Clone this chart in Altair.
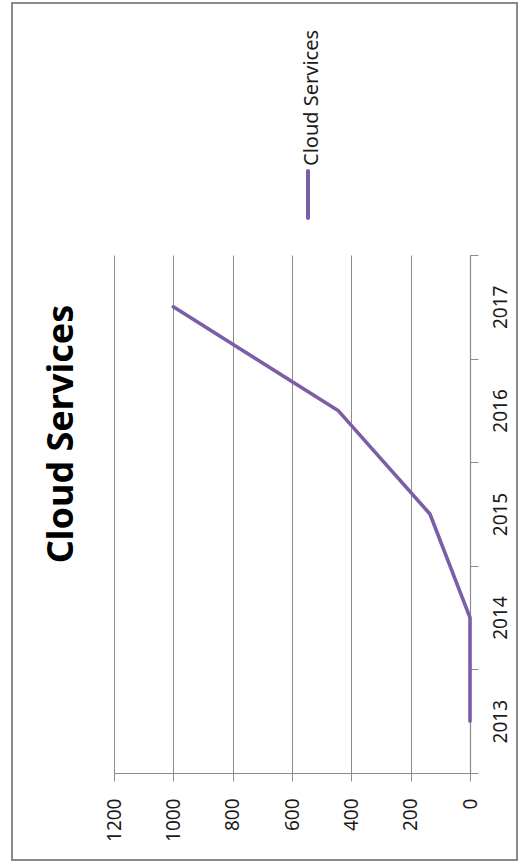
import altair as alt
import pandas as pd

# Series data
years = ["2013", "2014", "2015", "2016", "2017"]
cloud_services = [0, 0, 135, 445, 1000]
series_name = "Cloud Services"
chart_title = "Cloud Services"
value_ticks = [0, 200, 400, 600, 800, 1000, 1200]

FONT = "Noto Sans"
PURPLE = "#7B5EA7"
GRID = "#8C8C8C"
TEXT = "#1a1a1a"

df = pd.DataFrame({"year": years, "value": cloud_services, "idx": range(len(years))})

# Plot is drawn turned a quarter-turn: values run right-to-left, years bottom-to-top
x_enc = alt.X(
    "value:Q",
    scale=alt.Scale(domain=[0, 1200], reverse=True, nice=False, zero=True),
    axis=alt.Axis(
        orient="bottom",
        values=value_ticks,
        format="d",
        title=None,
        grid=True,
        gridColor=GRID,
        gridWidth=1,
        domainColor=GRID,
        domainWidth=1.2,
        tickColor=GRID,
        tickSize=8,
        labelAngle=270,
        labelAlign="right",
        labelBaseline="middle",
        labelPadding=17,
        labelFlush=False,
        labelOverlap=False,
        labelFont=FONT,
        labelFontSize=19,
        labelColor=TEXT,
    ),
)

y_enc = alt.Y(
    "year:O",
    sort=list(reversed(years)),
    scale=alt.Scale(type="band", paddingInner=0, paddingOuter=0),
    axis=alt.Axis(
        orient="right",
        title=None,
        grid=False,
        tickBand="extent",
        domainColor=GRID,
        domainWidth=1.2,
        tickColor=GRID,
        tickSize=8,
        labelAngle=270,
        labelAlign="center",
        labelBaseline="middle",
        labelPadding=22,
        labelFont=FONT,
        labelFontSize=19,
        labelColor=TEXT,
    ),
)

line = alt.Chart(df).mark_line(
    color=PURPLE, strokeWidth=3.6, strokeCap="round", strokeJoin="round"
).encode(x=x_enc, y=y_enc, order=alt.Order("idx:Q"))

meta = pd.DataFrame({"title": [chart_title], "series": [series_name]})

# Outer chart frame
frame = alt.Chart(meta).mark_rect(fill=None, stroke="#8A8A8A", strokeWidth=2).encode(
    x=alt.value(-102), x2=alt.value(403), y=alt.value(-252), y2=alt.value(605)
)

# Chart title, reading upward
title = alt.Chart(meta).mark_text(
    angle=270, align="center", baseline="alphabetic",
    font=FONT, fontSize=36, fontWeight="bold", color="#000000",
).encode(text="title:N", x=alt.value(-41), y=alt.value(179))

# Legend: swatch line and label
legend_swatch = alt.Chart(meta).mark_rule(
    color=PURPLE, strokeWidth=4, strokeCap="round"
).encode(x=alt.value(194), y=alt.value(-84), y2=alt.value(-37))

legend_label = alt.Chart(meta).mark_text(
    angle=270, align="left", baseline="alphabetic",
    font=FONT, fontSize=20, color=TEXT,
).encode(text="series:N", x=alt.value(204), y=alt.value(-89))

chart = alt.layer(frame, line, title, legend_swatch, legend_label).properties(
    width=356,
    height=518,
    autosize=alt.AutoSizeParams(type="none"),
    padding={"left": 114, "top": 255, "right": 50, "bottom": 93},
    background="white",
).configure_view(stroke=None)

chart.save("out.html", embed_options={"renderer": "svg", "actions": False})
